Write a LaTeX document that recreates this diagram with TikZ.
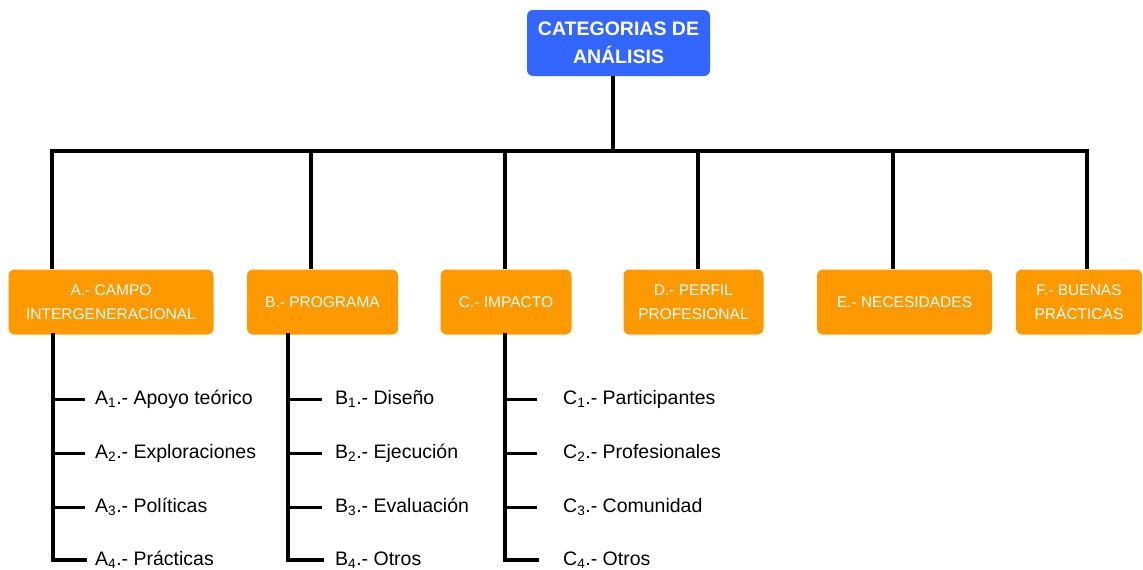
\documentclass[tikz,border=0pt]{standalone}
\usepackage{fontspec}
\setmainfont{Liberation Sans}
\definecolor{topblue}{RGB}{51,102,255}
\definecolor{boxorange}{RGB}{255,153,0}
\begin{document}
\begin{tikzpicture}[x=1pt,y=-1pt,
  topbox/.style={fill=topblue, rounded corners=6pt, text=white, font=\fontsize{19.5}{28}\selectfont\bfseries, align=center, minimum width=183pt, minimum height=66pt, inner sep=0pt},
  catbox/.style={fill=boxorange, rounded corners=6pt, text=white, font=\fontsize{15.5}{24}\selectfont, align=center, minimum height=65pt, inner sep=0pt},
  item/.style={anchor=west, inner sep=0pt, font=\fontsize{19.5}{22}\selectfont},
  conn/.style={line width=3.5pt},
  tick/.style={line width=3pt}
]
\useasboundingbox (0,0) rectangle (1143,570);
\node[topbox] (top) at (618.5,43) {CATEGORIAS DE\\ANÁLISIS};

\node[catbox, minimum width=205pt] (A) at (111,302) {A.- CAMPO\\INTERGENERACIONAL};
\node[catbox, minimum width=151pt] (B) at (322.5,302) {B.- PROGRAMA};
\node[catbox, minimum width=131pt] (C) at (506,302) {C.- IMPACTO};
\node[catbox, minimum width=140pt] (D) at (693.5,302) {D.- PERFIL\\PROFESIONAL};
\node[catbox, minimum width=175pt] (E) at (904.5,302) {E.- NECESIDADES};
\node[catbox, minimum width=126pt] (F) at (1079,302) {F.- BUENAS\\PRÁCTICAS};

\coordinate (bus) at (613,151);
\coordinate (dA) at (52,151);
\coordinate (dB) at (311,151);
\coordinate (dC) at (505,151);
\coordinate (dD) at (698,151);
\coordinate (dE) at (893,151);
\coordinate (dF) at (1087,151);

\draw[conn] (top.south -| bus) -- (bus);
\draw[conn, line cap=rect] (dA) -- (dF);
\foreach \d/\b in {dA/A,dB/B,dC/C,dD/D,dE/E,dF/F}
  \draw[conn] (\d) -- (\d |- \b.north);

% children
\node[item] (a1) at (95,399) {A\textsubscript{1}.- Apoyo teórico};
\node[item] (a2) at (95,453) {A\textsubscript{2}.- Exploraciones};
\node[item] (a3) at (95,507) {A\textsubscript{3}.- Políticas};
\node[item] (a4) at (95,560) {A\textsubscript{4}.- Prácticas};
\node[item] (b1) at (335,399) {B\textsubscript{1}.- Diseño};
\node[item] (b2) at (335,453) {B\textsubscript{2}.- Ejecución};
\node[item] (b3) at (335,507) {B\textsubscript{3}.- Evaluación};
\node[item] (b4) at (335,560) {B\textsubscript{4}.- Otros};
\node[item] (c1) at (563,399) {C\textsubscript{1}.- Participantes};
\node[item] (c2) at (563,453) {C\textsubscript{2}.- Profesionales};
\node[item] (c3) at (563,507) {C\textsubscript{3}.- Comunidad};
\node[item] (c4) at (563,560) {C\textsubscript{4}.- Otros};

\coordinate (sA) at (53,560);
\coordinate (sB) at (288,560);
\coordinate (sC) at (505,560);

\draw[conn, line cap=rect] (sA |- A.south) -- (sA) -- ([xshift=-10pt]a4.west);
\draw[conn, line cap=rect] (sB |- B.south) -- (sB) -- ([xshift=-13pt]b4.west);
\draw[conn, line cap=rect] (sC |- C.south) -- (sC) -- ([xshift=-26pt]c4.west);
\foreach \i in {1,2,3} {
  \draw[tick] (sA |- a\i.west) -- ([xshift=-10pt]a\i.west);
  \draw[tick] (sB |- b\i.west) -- ([xshift=-13pt]b\i.west);
  \draw[tick] (sC |- c\i.west) -- ([xshift=-26pt]c\i.west);
}
\end{tikzpicture}
\end{document}
